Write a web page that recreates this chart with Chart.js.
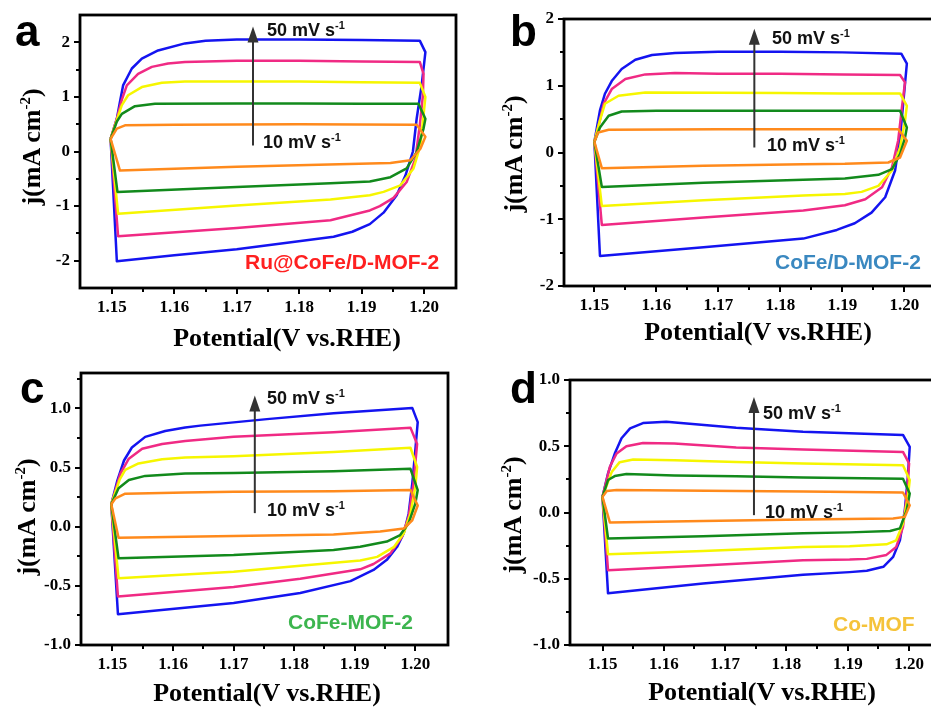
<!DOCTYPE html>
<html>
<head>
<meta charset="utf-8">
<script src="https://cdn.jsdelivr.net/npm/chart.js@4/dist/chart.umd.min.js"></script>
<style>
  html, body { margin:0; padding:0; background:#fff; overflow:hidden; }
  #wrap { position:relative; width:931px; height:707px; overflow:hidden; background:#fff; }
  canvas { position:absolute; }
  .t { position:absolute; white-space:nowrap; line-height:1; }
  .ann { font:bold 18px "Liberation Sans", Arial, sans-serif; color:#111; }
  .ann .s { font-size:11px; position:relative; top:-7px; }
  .smp { font:bold 21px "Liberation Sans", Arial, sans-serif; }
  .let { font:bold 44px "Liberation Sans", Arial, sans-serif; color:#000; }
  .xt { font:bold 26px "Liberation Serif", "Times New Roman", serif; color:#000; transform:translate(-50%,-50%); }
  .yt { font:bold 26px "Liberation Serif", "Times New Roman", serif; color:#000; transform:translate(-50%,-50%) rotate(-90deg); }
  .yt .s { font-size:15px; position:relative; top:-10px; }
</style>
</head>
<body>
<div id="wrap">
  <canvas id="ca" width="470" height="330" style="left:0px;top:0px"></canvas>
  <canvas id="cb" width="470" height="330" style="left:480px;top:0px"></canvas>
  <canvas id="cc" width="470" height="340" style="left:0px;top:350px"></canvas>
  <canvas id="cd" width="470" height="340" style="left:480px;top:350px"></canvas>

  <div class="t let" style="left:15px;top:6px">a</div>
  <div class="t let" style="left:510px;top:6px">b</div>
  <div class="t let" style="left:20px;top:363px">c</div>
  <div class="t let" style="left:510px;top:363px">d</div>

  <div class="t ann" style="left:267px;top:20px">50 mV s<span class="s">-1</span></div>
  <div class="t ann" style="left:263px;top:132px">10 mV s<span class="s">-1</span></div>
  <div class="t ann" style="left:772px;top:28px">50 mV s<span class="s">-1</span></div>
  <div class="t ann" style="left:767px;top:135px">10 mV s<span class="s">-1</span></div>
  <div class="t ann" style="left:267px;top:388px">50 mV s<span class="s">-1</span></div>
  <div class="t ann" style="left:267px;top:500px">10 mV s<span class="s">-1</span></div>
  <div class="t ann" style="left:763px;top:403px">50 mV s<span class="s">-1</span></div>
  <div class="t ann" style="left:765px;top:502px">10 mV s<span class="s">-1</span></div>

  <div class="t smp" style="left:245px;top:250px;color:#ff2020">Ru@CoFe/D-MOF-2</div>
  <div class="t smp" style="left:775px;top:250px;color:#3a88c0">CoFe/D-MOF-2</div>
  <div class="t smp" style="left:288px;top:610px;color:#3cb54e">CoFe-MOF-2</div>
  <div class="t smp" style="left:833px;top:612px;color:#f5c33a">Co-MOF</div>

  <div class="t xt" style="left:287px;top:338px">Potential(V vs.RHE)</div>
  <div class="t xt" style="left:758px;top:332px">Potential(V vs.RHE)</div>
  <div class="t xt" style="left:267px;top:693px">Potential(V vs.RHE)</div>
  <div class="t xt" style="left:762px;top:692px">Potential(V vs.RHE)</div>

  <div class="t yt" style="left:32px;top:147px">j(mA cm<span class="s">-2</span>)</div>
  <div class="t yt" style="left:514px;top:154px">j(mA cm<span class="s">-2</span>)</div>
  <div class="t yt" style="left:27px;top:517px">j(mA cm<span class="s">-2</span>)</div>
  <div class="t yt" style="left:513px;top:515px">j(mA cm<span class="s">-2</span>)</div>
</div>
<script>
// ---------------- DATA ----------------
const SCAN_RATES = ['10 mV s-1', '20 mV s-1', '30 mV s-1', '40 mV s-1', '50 mV s-1'];
const X_TICKS = [1.15, 1.16, 1.17, 1.18, 1.19, 1.20];
const X_MINOR = [1.155, 1.165, 1.175, 1.185, 1.195];
const Y_TICKS_AB = [-2, -1, 0, 1, 2];
const Y_MINOR_AB = [-1.5, -0.5, 0.5, 1.5];
const Y_TICKS_CD = [-1.0, -0.5, 0.0, 0.5, 1.0];
const Y_MINOR_C = [-0.75, -0.25, 0.25, 0.75, 1.25];
const Y_MINOR_D = [-0.75, -0.25, 0.25, 0.75];

// Panel a: Ru@CoFe/D-MOF-2  [potential V, j mA cm-2]
const A_10 = [[1.1498,0.23],[1.1508,0.42],[1.1521,0.48],[1.16,0.49],[1.18,0.50],[1.1988,0.49],[1.2002,0.27],[1.1994,0.05],[1.1978,-0.16],[1.1946,-0.21],[1.1913,-0.22],[1.17,-0.28],[1.1513,-0.35],[1.1498,0.23]];
const A_20 = [[1.1498,0.23],[1.1508,0.55],[1.1516,0.69],[1.1537,0.83],[1.1569,0.875],[1.17,0.88],[1.18,0.88],[1.19,0.875],[1.1991,0.875],[1.2002,0.60],[1.1999,0.42],[1.1988,-0.01],[1.1972,-0.31],[1.1946,-0.47],[1.1913,-0.55],[1.185,-0.58],[1.17,-0.65],[1.1509,-0.74],[1.1498,0.23]];
const A_30 = [[1.1498,0.23],[1.1508,0.58],[1.1516,0.85],[1.1526,1.03],[1.1548,1.18],[1.158,1.26],[1.1617,1.28],[1.17,1.28],[1.18,1.28],[1.19,1.27],[1.1993,1.26],[1.2002,1.0],[1.1999,0.66],[1.1994,0.11],[1.1983,-0.31],[1.1962,-0.62],[1.1935,-0.74],[1.1913,-0.80],[1.185,-0.88],[1.17,-0.99],[1.151,-1.14],[1.1498,0.23]];
const A_40 = [[1.1498,0.23],[1.1508,0.60],[1.1516,0.95],[1.1524,1.21],[1.1542,1.42],[1.1564,1.55],[1.159,1.61],[1.1617,1.64],[1.17,1.66],[1.18,1.66],[1.19,1.65],[1.1993,1.64],[1.1999,1.42],[1.1998,1.03],[1.1993,0.48],[1.1986,-0.13],[1.1972,-0.56],[1.1951,-0.85],[1.1929,-1.0],[1.1913,-1.08],[1.185,-1.26],[1.17,-1.40],[1.151,-1.55],[1.1498,0.23]];
const A_50 = [[1.1498,0.23],[1.1508,0.60],[1.1513,0.91],[1.1518,1.21],[1.1532,1.52],[1.1548,1.70],[1.1574,1.85],[1.1617,1.98],[1.165,2.03],[1.17,2.05],[1.18,2.05],[1.19,2.04],[1.1993,2.03],[1.2002,1.82],[1.1996,1.21],[1.1988,0.60],[1.1982,0.0],[1.197,-0.44],[1.1956,-0.80],[1.1935,-1.12],[1.1913,-1.33],[1.1885,-1.47],[1.1855,-1.56],[1.17,-1.79],[1.16,-1.90],[1.1508,-2.01],[1.1498,0.23]];

// Panel b: CoFe/D-MOF-2
const B_10 = [[1.15,0.16],[1.1506,0.30],[1.1523,0.34],[1.17,0.35],[1.199,0.35],[1.2004,0.175],[1.1993,-0.075],[1.1974,-0.15],[1.1904,-0.17],[1.1837,-0.175],[1.1676,-0.20],[1.1512,-0.235],[1.15,0.16]];
const B_20 = [[1.15,0.16],[1.1509,0.375],[1.1523,0.55],[1.1544,0.615],[1.16,0.625],[1.18,0.625],[1.1993,0.625],[1.2004,0.375],[1.2001,0.22],[1.1993,-0.025],[1.198,-0.25],[1.1958,-0.335],[1.1904,-0.39],[1.1837,-0.41],[1.1676,-0.455],[1.1512,-0.515],[1.15,0.16]];
const B_30 = [[1.15,0.16],[1.1508,0.45],[1.1517,0.73],[1.1539,0.85],[1.1582,0.90],[1.17,0.895],[1.18,0.89],[1.19,0.885],[1.1993,0.885],[1.2004,0.70],[1.2001,0.475],[1.1993,0.075],[1.198,-0.27],[1.1958,-0.50],[1.1931,-0.59],[1.1904,-0.62],[1.1837,-0.645],[1.1676,-0.715],[1.1512,-0.80],[1.15,0.16]];
const B_40 = [[1.15,0.16],[1.1508,0.45],[1.1515,0.73],[1.1528,0.95],[1.155,1.10],[1.1582,1.17],[1.163,1.19],[1.17,1.18],[1.18,1.18],[1.19,1.17],[1.1993,1.16],[1.2001,1.05],[1.1996,0.67],[1.199,0.18],[1.198,-0.22],[1.1964,-0.52],[1.1937,-0.70],[1.1904,-0.79],[1.1837,-0.87],[1.1676,-0.975],[1.1512,-1.085],[1.15,0.16]];
const B_50 = [[1.15,0.16],[1.1509,0.63],[1.1517,0.88],[1.1528,1.07],[1.1544,1.25],[1.1566,1.39],[1.1593,1.46],[1.163,1.49],[1.17,1.51],[1.18,1.51],[1.19,1.50],[1.1995,1.48],[1.2004,1.33],[1.1998,0.73],[1.1993,0.22],[1.1985,-0.27],[1.1969,-0.67],[1.1947,-0.90],[1.192,-1.06],[1.1891,-1.16],[1.1837,-1.29],[1.1676,-1.42],[1.1509,-1.55],[1.15,0.16]];

// Panel c: CoFe-MOF-2
const C_10 = [[1.1498,0.19],[1.1505,0.24],[1.1521,0.28],[1.162,0.29],[1.17,0.295],[1.1865,0.30],[1.1992,0.31],[1.2004,0.18],[1.1995,0.055],[1.1981,-0.015],[1.1942,-0.04],[1.1909,-0.05],[1.1865,-0.065],[1.17,-0.079],[1.151,-0.093],[1.1498,0.19]];
const C_20 = [[1.1498,0.19],[1.151,0.325],[1.1527,0.395],[1.1554,0.43],[1.162,0.45],[1.17,0.455],[1.1865,0.47],[1.1992,0.49],[1.2004,0.31],[1.2,0.195],[1.1989,0.03],[1.1975,-0.07],[1.1953,-0.125],[1.1909,-0.17],[1.1865,-0.197],[1.17,-0.24],[1.151,-0.267],[1.1498,0.19]];
const C_30 = [[1.1498,0.19],[1.1512,0.40],[1.1521,0.48],[1.1543,0.535],[1.1582,0.57],[1.162,0.585],[1.17,0.595],[1.1865,0.632],[1.1992,0.668],[1.2003,0.505],[1.2,0.335],[1.1992,0.11],[1.1981,-0.055],[1.1965,-0.17],[1.1937,-0.255],[1.1909,-0.285],[1.181,-0.33],[1.17,-0.38],[1.151,-0.435],[1.1498,0.19]];
const C_40 = [[1.1498,0.19],[1.1513,0.45],[1.1527,0.575],[1.1549,0.66],[1.1582,0.70],[1.162,0.725],[1.17,0.76],[1.1865,0.80],[1.1992,0.838],[1.2003,0.70],[1.1997,0.365],[1.1989,0.085],[1.1978,-0.085],[1.1959,-0.225],[1.1931,-0.315],[1.1909,-0.36],[1.181,-0.44],[1.17,-0.51],[1.1509,-0.59],[1.1498,0.19]];
const C_50 = [[1.1498,0.19],[1.1508,0.39],[1.1519,0.56],[1.1532,0.67],[1.1554,0.76],[1.1587,0.81],[1.162,0.84],[1.1645,0.855],[1.1755,0.91],[1.1865,0.96],[1.1995,1.005],[1.2004,0.885],[1.2,0.645],[1.1995,0.365],[1.1989,0.11],[1.1981,-0.055],[1.197,-0.17],[1.1953,-0.28],[1.1931,-0.365],[1.1909,-0.42],[1.1893,-0.46],[1.181,-0.56],[1.17,-0.645],[1.1509,-0.74],[1.1498,0.19]];

// Panel d: Co-MOF
const D_10 = [[1.15,0.118],[1.1507,0.163],[1.1523,0.17],[1.1718,0.163],[1.1827,0.158],[1.199,0.151],[1.2001,0.055],[1.1993,-0.033],[1.1974,-0.045],[1.1827,-0.053],[1.1664,-0.065],[1.1512,-0.075],[1.15,0.118]];
const D_20 = [[1.15,0.118],[1.1509,0.245],[1.152,0.275],[1.1539,0.29],[1.1617,0.28],[1.1718,0.274],[1.1827,0.264],[1.199,0.255],[1.2001,0.143],[1.1996,0.017],[1.1985,-0.12],[1.1969,-0.14],[1.1903,-0.15],[1.1827,-0.156],[1.1664,-0.18],[1.1509,-0.196],[1.15,0.118]];
const D_30 = [[1.15,0.118],[1.1515,0.305],[1.1528,0.38],[1.155,0.40],[1.1617,0.395],[1.1718,0.382],[1.1827,0.37],[1.199,0.357],[1.2001,0.245],[1.1998,0.118],[1.199,-0.083],[1.1979,-0.21],[1.1963,-0.24],[1.1903,-0.255],[1.1827,-0.26],[1.1664,-0.29],[1.1509,-0.315],[1.15,0.118]];
const D_40 = [[1.15,0.118],[1.1512,0.345],[1.1523,0.445],[1.1539,0.50],[1.1566,0.525],[1.1617,0.52],[1.1718,0.49],[1.1827,0.475],[1.199,0.457],[1.2,0.37],[1.1996,0.118],[1.199,-0.11],[1.1979,-0.26],[1.1963,-0.32],[1.1931,-0.35],[1.1903,-0.355],[1.1827,-0.36],[1.1664,-0.40],[1.1509,-0.435],[1.15,0.118]];
const D_50 = [[1.15,0.118],[1.1509,0.295],[1.152,0.445],[1.1531,0.56],[1.1545,0.635],[1.1566,0.675],[1.1604,0.685],[1.1718,0.64],[1.1827,0.609],[1.199,0.585],[1.2001,0.495],[1.1998,0.27],[1.1993,0.017],[1.1985,-0.21],[1.1974,-0.335],[1.1958,-0.41],[1.1931,-0.44],[1.1903,-0.45],[1.1827,-0.47],[1.1664,-0.535],[1.1509,-0.61],[1.15,0.118]];

// ---------------- STYLE / LAYOUT ----------------
const LOOP_COLORS = ['#ff8a1c', '#128a1c', '#f6f600', '#f02a84', '#1414f0'];

const PANELS = [
  { id:'ca', loops:[A_10,A_20,A_30,A_40,A_50], xMin:1.1449, xMax:1.2051, yMin:-2.5, yMax:2.5,
    yMajor:Y_TICKS_AB, yMinor:Y_MINOR_AB, dec:0, area:{l:80,t:15,r:456,b:288}, w:470, h:330,
    arrow:{x:1.1726, y0:0.11, y1:2.29} },
  { id:'cb', loops:[B_10,B_20,B_30,B_40,B_50], xMin:1.1451, xMax:1.2051, yMin:-2, yMax:2,
    yMajor:Y_TICKS_AB, yMinor:Y_MINOR_AB, dec:0, area:{l:84,t:19,r:456,b:286}, w:470, h:330,
    arrow:{x:1.1758, y0:0.075, y1:1.855} },
  { id:'cc', loops:[C_10,C_20,C_30,C_40,C_50], xMin:1.1448, xMax:1.2054, yMin:-1.0, yMax:1.3,
    yMajor:Y_TICKS_CD, yMinor:Y_MINOR_C, dec:1, area:{l:81,t:23,r:448,b:295}, w:470, h:340,
    arrow:{x:1.1735, y0:0.115, y1:1.11} },
  { id:'cd', loops:[D_10,D_20,D_30,D_40,D_50], xMin:1.1447, xMax:1.2052, yMin:-1.0, yMax:1.0,
    yMajor:Y_TICKS_CD, yMinor:Y_MINOR_D, dec:1, area:{l:90,t:30,r:461,b:295}, w:470, h:340,
    arrow:{x:1.1747, y0:-0.02, y1:0.872} }
];

const frameAndTicks = {
  id: 'frameAndTicks',
  afterDraw(chart, args, opts) {
    const { ctx, chartArea: a, scales: { x, y } } = chart;
    const p = opts.panel;
    ctx.save();
    ctx.strokeStyle = '#000';
    ctx.lineCap = 'butt';
    ctx.lineWidth = 2;
    const xMajor = new Set(X_TICKS.map(v => v.toFixed(3)));
    for (const t of x.ticks) {
      const px = Math.round(x.getPixelForValue(t.value));
      const len = xMajor.has(t.value.toFixed(3)) ? 6 : 4;
      ctx.beginPath(); ctx.moveTo(px, a.bottom); ctx.lineTo(px, a.bottom + len); ctx.stroke();
    }
    const yMajor = new Set(p.yMajor.map(v => v.toFixed(3)));
    for (const t of y.ticks) {
      const py = Math.round(y.getPixelForValue(t.value));
      const len = yMajor.has(t.value.toFixed(3)) ? 6 : 4;
      ctx.beginPath(); ctx.moveTo(a.left, py); ctx.lineTo(a.left - len, py); ctx.stroke();
    }
    ctx.lineWidth = 2.8;
    ctx.strokeRect(a.left, a.top, a.right - a.left, a.bottom - a.top);
    const ar = p.arrow;
    const ax = x.getPixelForValue(ar.x);
    const ay0 = y.getPixelForValue(ar.y0);
    const ay1 = y.getPixelForValue(ar.y1);
    ctx.strokeStyle = '#333';
    ctx.fillStyle = '#333';
    ctx.lineWidth = 2;
    ctx.beginPath(); ctx.moveTo(ax, ay0); ctx.lineTo(ax, ay1 + 12); ctx.stroke();
    ctx.beginPath();
    ctx.moveTo(ax, ay1); ctx.lineTo(ax - 5.5, ay1 + 16); ctx.lineTo(ax + 5.5, ay1 + 16); ctx.closePath();
    ctx.fill();
    ctx.restore();
  }
};

const tickFont = { family: '"Liberation Serif", "Times New Roman", serif', size: 17, weight: 'bold' };

for (const p of PANELS) {
  const datasets = p.loops.map((pts, i) => ({
    label: SCAN_RATES[i],
    data: pts.map(([vx, vy]) => ({ x: vx, y: vy })),
    borderColor: LOOP_COLORS[i],
    backgroundColor: LOOP_COLORS[i],
    borderWidth: 2.5,
    borderJoinStyle: 'round',
    pointRadius: 0,
    showLine: true,
    fill: false,
    tension: 0
  }));
  const xAll = X_TICKS.concat(X_MINOR).sort((m, n) => m - n);
  const yAll = p.yMajor.concat(p.yMinor).sort((m, n) => m - n);
  const xMajorSet = new Set(X_TICKS.map(v => v.toFixed(3)));
  const yMajorSet = new Set(p.yMajor.map(v => v.toFixed(3)));
  new Chart(document.getElementById(p.id), {
    type: 'scatter',
    data: { datasets },
    options: {
      responsive: false,
      animation: false,
      devicePixelRatio: 1,
      layout: { padding: { left: 0, top: p.area.t, right: p.w - p.area.r, bottom: 0 } },
      plugins: { legend: { display: false }, tooltip: { enabled: false }, frameAndTicks: { panel: p } },
      scales: {
        x: {
          type: 'linear', min: p.xMin, max: p.xMax,
          afterBuildTicks: s => { s.ticks = xAll.map(v => ({ value: v })); },
          afterFit: s => { s.height = p.h - p.area.b; },
          grid: { display: false, drawTicks: true, tickLength: 6 },
          border: { display: false },
          ticks: {
            autoSkip: false, maxRotation: 0, padding: 3, color: '#000', font: tickFont,
            callback: v => xMajorSet.has(Number(v).toFixed(3)) ? Number(v).toFixed(2) : ''
          }
        },
        y: {
          type: 'linear', min: p.yMin, max: p.yMax,
          afterBuildTicks: s => { s.ticks = yAll.map(v => ({ value: v })); },
          afterFit: s => { s.width = p.area.l; },
          grid: { display: false, drawTicks: true, tickLength: 6 },
          border: { display: false },
          ticks: {
            autoSkip: false, padding: 4, color: '#000', font: tickFont,
            callback: v => yMajorSet.has(Number(v).toFixed(3)) ? Number(v).toFixed(p.dec) : ''
          }
        }
      }
    },
    plugins: [frameAndTicks]
  });
}
</script>
</body>
</html>
